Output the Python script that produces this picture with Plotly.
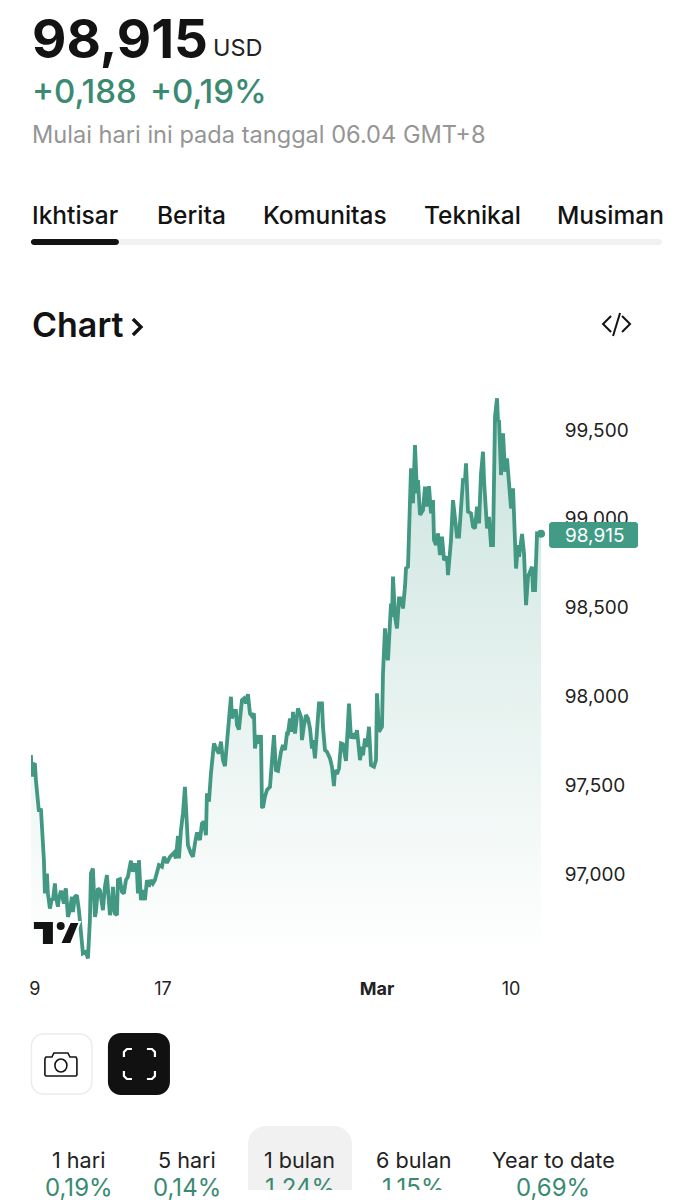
import plotly.graph_objects as go

W, H = 676, 1200

bar_index = [0,1,2,4,5,7,8,10,11,13,14,16,17,19,21,22,24,25,27,28,30,31,33,34,35,37,39,41,42,44,46,48,50,51,52,55,57,59,60,62,64,65,67,69,71,72,74,76,79,81,82,84,86,87,89,91,93,95,97,100,102,104,106,107,108,110,112,114,116,118,120,122,124,126,128,131,133,136,139,143,145,147,148,150,152,154,156,157,160,162,164,166,169,171,173,175,176,178,180,182,183,186,188,190,192,194,196,198,200,201,203,205,206,208,211,213,215,217,219,221,223,224,226,228,230,231,232,234,236,239,241,243,245,247,250,
 251,252,254,256,257,259,261,262,264,267,270,271,273,275,277,279,281,282,284,286,288,291,292,294,296,299,301,303,304,306,308,310,312,315,318,320,322,324,326,329,331,332,334,336,338,340,343,345,346,348,351,352,
 354,356,357,360,361,362,364,366,368,370,372,374,375,377,379,380,382,384,386,387,389,392,394,396,398,400,402,403,405,407,409,411,413,416,417,420,422,424,426,428,431,432,434,435,437,440,442,444,446,448,450,452,453,456,458,460,462,464,466,467,468,470,472,474,476,478,480,482,485,487,488,491,493,495,497,501,502,504,506,510]

close_values = [97670,97548,97613,97623,97529,97388,97351,97369,97285,97078,96891,97003,96891,96806,96863,96853,96947,96872,96816,96863,96906,96872,96834,96900,96919,96759,96797,96872,96787,96872,96881,96797,96684,96637,96553,96562,96525,96741,97003,97031,96759,96787,96919,96909,96834,96797,96928,96994,96769,96816,96928,96778,96769,96966,96971,96900,96891,96966,96985,97075,97013,97060,97013,96891,97078,96853,96909,96853,96966,96928,96966,96947,96966,97003,97050,97041,97097,97063,97097,97120,97088,97214,97088,97247,97341,97491,97266,97163,97116,97097,97172,97234,97191,97285,97294,97219,97454,97407,97566,97717,97735,97698,97679,97745,97642,97608,97754,97867,97998,97876,97919,97919,97839,97814,97979,97989,97961,98013,97904,97889,97904,97707,97782,97735,97782,97379,97373,97435,97473,97491,97642,97782,97585,97581,97688,
 97707,97726,97698,97791,97791,97876,97801,97913,97791,97932,97885,97754,97838,97895,97876,97820,97707,97754,97651,97810,97960,97960,97829,97698,97688,97651,97604,97495,97585,97562,97594,97735,97731,97637,97960,97763,97791,97763,97810,97641,97716,97669,97763,97716,97829,97613,97604,97641,98017,97801,97829,98129,
 98383,98223,98204,98523,98448,98674,98448,98383,98552,98552,98495,98617,98720,98730,99087,99284,99087,99415,99143,99218,99021,99049,99180,99068,99184,99030,99105,98880,98852,98918,98796,98899,98767,98786,98683,98880,99105,98993,98899,98899,99105,99218,99218,99312,99040,99030,98955,98946,99068,98974,99255,99377,99218,98946,99011,98852,98852,99575,99678,99546,99556,99246,99481,99265,99340,99180,99058,99171,98720,98852,98786,98914,98805,98514,98674,98730,98599,98599,98918,98915]

baseline_value = 96527
y_ticks = [97000, 97500, 98000, 98500, 99000, 99500]
x_tick_pos = [4, 132, 346, 480]
x_tick_text = ["9", "17", "<b>Mar</b>", "10"]

FONT = "Inter"
GREEN = "#429882"
TEXT_GREEN = "#3a8a72"
INK = "#131313"


def px(x):
    return (x - 2.1) / 0.9968 / W


def py(y):
    return 1 - y / H


def P(*pts, close=True):
    s = "M " + " L ".join(f"{px(x):.5f},{py(y):.5f}" for x, y in pts)
    return s + (" Z" if close else "")


def rrect(x0, y0, x1, y1, r, top_only=False):
    k = r * 0.45
    c = lambda a, b, d, e, f, g: f"C {px(a):.5f},{py(b):.5f} {px(d):.5f},{py(e):.5f} {px(f):.5f},{py(g):.5f}"
    s = f"M {px(x0+r):.5f},{py(y0):.5f} L {px(x1-r):.5f},{py(y0):.5f} " + c(x1-k, y0, x1, y0+k, x1, y0+r)
    if top_only:
        s += f" L {px(x1):.5f},{py(y1):.5f} L {px(x0):.5f},{py(y1):.5f}"
    else:
        s += f" L {px(x1):.5f},{py(y1-r):.5f} " + c(x1, y1-k, x1-k, y1, x1-r, y1)
        s += f" L {px(x0+r):.5f},{py(y1):.5f} " + c(x0+k, y1, x0, y1-k, x0, y1-r)
    s += f" L {px(x0):.5f},{py(y0+r):.5f} " + c(x0, y0+k, x0+k, y0, x0+r, y0) + " Z"
    return s


shapes = []


def add(path, fill="rgba(0,0,0,0)", line=None, lw=0):
    shapes.append(dict(type="path", path=path, xref="paper", yref="paper", layer="above",
                       fillcolor=fill, line=dict(color=line or "rgba(0,0,0,0)", width=lw)))


# tab track
add(rrect(31, 239, 662, 245, 3), "#f1f1f1")
add(rrect(31, 239, 119, 245, 3), INK)
# chart chevron
add(P((133, 319), (141, 327), (133, 335), close=False), line=INK, lw=3.4)
# embed icon
add(P((611, 316), (603, 324), (611, 332), close=False), line=INK, lw=2)
add(P((622, 316), (630, 324), (622, 332), close=False), line=INK, lw=2)
add(P((620, 313), (613, 336), close=False), line=INK, lw=2)
# price pill
add(rrect(549, 522, 638, 548, 3), "#429b85")
# TradingView mark
add(P((34, 922), (53, 922), (53, 944), (43, 944), (43, 929), (34, 929)), INK)
add(P((70, 922), (80, 922), (71, 944), (60, 944)), INK, "#ffffff", 2)
shapes.append(dict(type="circle", xref="paper", yref="paper", layer="above", x0=px(56.8), x1=px(64.8),
                   y0=py(922), y1=py(930), fillcolor=INK, line=dict(width=0)))
# buttons
add(rrect(31.5, 1034, 92, 1094, 12), "#ffffff", "#ececec", 1.5)
add(rrect(108, 1033, 170, 1095, 13), "#111111")
# camera icon
add(P((46, 1057), (52, 1057), (54, 1053), (68, 1053), (70, 1057), (76, 1057), (77, 1059), (77, 1075), (76, 1076),
      (46, 1076), (45, 1075), (45, 1059)), line=INK, lw=1.6)
shapes.append(dict(type="circle", xref="paper", yref="paper", layer="above", x0=px(55), x1=px(67),
                   y0=py(1059), y1=py(1072), line=dict(color=INK, width=1.6), fillcolor="rgba(0,0,0,0)"))
# fullscreen corners
for pts in [((124, 1057), (124, 1052), (127, 1049), (132, 1049)),
            ((147, 1049), (152, 1049), (155, 1052), (155, 1057)),
            ((124, 1071), (124, 1076), (127, 1079), (132, 1079)),
            ((147, 1079), (152, 1079), (155, 1076), (155, 1071))]:
    add(P(*pts, close=False), line="#ffffff", lw=2.2)
# period tab
add(rrect(248, 1126, 352, 1205, 18, top_only=True), "#f1f1f1")

ann = []


def label(text, x, y, size, color=INK, weight=400, anchor="left"):
    ann.append(dict(text=text, x=px(x), y=py(y), xref="paper", yref="paper", showarrow=False,
                    xanchor=anchor, yanchor="middle", borderpad=0,
                    font=dict(family=FONT, size=size, color=color, weight=weight)))


label("98,915", 31, 39, 53, INK, 700)
label("USD", 212, 47, 23.5, "#222222")
label("+0,188", 31, 91, 33, TEXT_GREEN, 500)
label("+0,19%", 149, 91, 33, TEXT_GREEN, 500)
label("Mulai hari ini pada tanggal 06.04 GMT+8", 31, 134, 23.6, "#959595")
for t, x in [("Ikhtisar", 31), ("Berita", 156), ("Komunitas", 262), ("Teknikal", 423), ("Musiman", 556)]:
    label(t, x, 215, 24.5, INK, 500)
label("Chart", 31, 325, 34, INK, 600)
label("98,915", 564, 535, 19, "#ffffff")
for name, val, x in [("1 hari", "0,19%", 79), ("5 hari", "0,14%", 187), ("1 bulan", "1,24%", 300),
                     ("6 bulan", "1,15%", 414), ("Year to date", "0,69%", 553)]:
    label(name, x, 1160, 21.6, "#222222", 400, "center")
    label(val, x, 1187, 24, TEXT_GREEN, 400, "center")
# white sheet at the foot of the page, hiding the lower part of two values
ann.append(dict(text="&nbsp;", x=px(225), y=py(1190), xref="paper", yref="paper", showarrow=False,
                xanchor="left", yanchor="top", width=255, height=20, bgcolor="#ffffff", borderpad=0, borderwidth=0))

fig = go.Figure()
fig.add_trace(go.Scatter(x=bar_index, y=[baseline_value] * len(bar_index), mode="lines",
                         line=dict(width=0), hoverinfo="skip", showlegend=False))
fig.add_trace(go.Scatter(x=bar_index, y=close_values, mode="lines", fill="tonexty",
                         fillgradient=dict(type="vertical", start=99680, stop=baseline_value,
                                           colorscale=[[0, "rgba(66,155,133,0.28)"], [1, "rgba(66,155,133,0)"]]),
                         line=dict(color=GREEN, width=3.8), showlegend=False))
fig.add_trace(go.Scatter(x=bar_index[-1:], y=close_values[-1:], mode="markers",
                         marker=dict(color=GREEN, size=8), showlegend=False))

fig.update_layout(
    width=W, height=H, autosize=False, margin=dict(l=0, r=0, t=0, b=0),
    paper_bgcolor="#ffffff", plot_bgcolor="#ffffff", showlegend=False,
    font=dict(family=FONT, size=18, color="#222222"),
    shapes=shapes, annotations=ann,
    xaxis=dict(domain=[px(31), px(548)], range=[0, 517], tickmode="array", tickvals=x_tick_pos,
               ticktext=x_tick_text, showgrid=False, zeroline=False, showline=False, ticks="outside",
               ticklen=7, tickcolor="rgba(0,0,0,0)", tickfont=dict(size=18, color="#222222")),
    yaxis=dict(domain=[py(965), py(380)], range=[96488, 99781], side="right", tickmode="array",
               tickvals=y_ticks, tickformat=",", showgrid=False, zeroline=False, showline=False,
               ticks="outside", ticklen=12, tickcolor="rgba(0,0,0,0)", tickfont=dict(size=19, color="#222222")),
)

fig.write_html("out.html", post_script="document.body.style.margin='0';", config={"displayModeBar": False})
